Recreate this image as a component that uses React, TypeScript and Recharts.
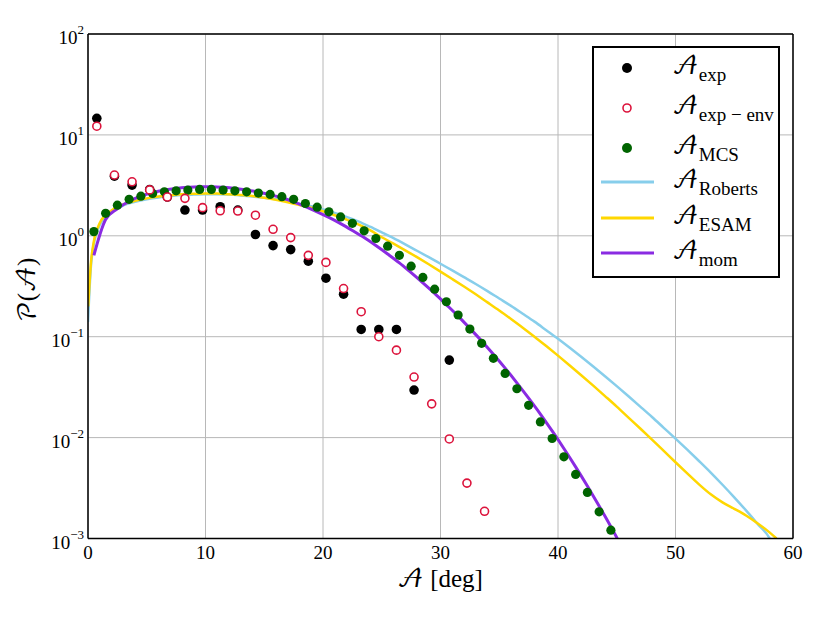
import React from 'react';
import {
  ComposedChart, Line, Scatter, XAxis, YAxis, CartesianGrid,
} from 'recharts';

// measured points
const expX = [0.75, 2.25, 3.75, 5.25, 6.75, 8.25, 9.75, 11.25, 12.75, 14.25, 15.75, 17.25, 18.75, 20.25, 21.75, 23.25, 24.75, 26.25, 27.75, 30.75];
const expY = [14.6, 3.9, 3.18, 2.88, 2.42, 1.8, 1.8, 1.94, 1.8, 1.03, 0.8, 0.73, 0.56, 0.38, 0.264, 0.118, 0.118, 0.118, 0.0296, 0.0586];

const envX = [0.75, 2.25, 3.75, 5.25, 6.75, 8.25, 9.75, 11.25, 12.75, 14.25, 15.75, 17.25, 18.75, 20.25, 21.75, 23.25, 24.75, 26.25, 27.75, 29.25, 30.75, 32.25, 33.75];
const envY = [12.2, 4.0, 3.43, 2.85, 2.42, 2.35, 1.9, 1.77, 1.76, 1.6, 1.16, 0.96, 0.64, 0.545, 0.3, 0.177, 0.1, 0.0736, 0.0398, 0.0216, 0.0097, 0.00354, 0.00186];

const mcsX = [0.5, 1.5, 2.5, 3.5, 4.5, 5.5, 6.5, 7.5, 8.5, 9.5, 10.5, 11.5, 12.5, 13.5, 14.5, 15.5, 16.5, 17.5, 18.5, 19.5, 20.5, 21.5, 22.5, 23.5, 24.5, 25.5, 26.5, 27.5, 28.5, 29.5, 30.5, 31.5, 32.5, 33.5, 34.5, 35.5, 36.5, 37.5, 38.5, 39.5, 40.5, 41.5, 42.5, 43.5, 44.5];
const mcsY = [1.1, 1.67, 2.01, 2.3, 2.47, 2.63, 2.73, 2.79, 2.84, 2.88, 2.88, 2.84, 2.79, 2.73, 2.65, 2.57, 2.44, 2.3, 2.09, 1.92, 1.73, 1.54, 1.33, 1.12, 0.94, 0.79, 0.64, 0.5, 0.387, 0.296, 0.222, 0.164, 0.119, 0.086, 0.061, 0.0433, 0.0305, 0.0209, 0.0143, 0.0098, 0.00645, 0.00432, 0.00286, 0.00184, 0.00121];

// model curves
const robX = [0, 0.3, 1, 2, 3, 4, 5, 6, 7, 8, 9, 10, 11, 12, 13, 14, 15, 16, 17, 18, 19, 20, 21, 22, 23, 24, 25, 26, 27, 28, 29, 30, 31, 32, 33, 34, 35, 36, 37, 38, 39, 40, 41, 42, 43, 44, 45, 46, 47, 48, 49, 50, 51, 52, 53, 54, 55, 56, 57, 58, 58.02];
const robY = [0.14, 0.58, 1.28, 1.72, 2.0, 2.17, 2.3, 2.4, 2.47, 2.53, 2.56, 2.58, 2.58, 2.56, 2.51, 2.45, 2.38, 2.3, 2.2, 2.08, 1.96, 1.82, 1.68, 1.54, 1.39, 1.23, 1.08, 0.946, 0.822, 0.711, 0.614, 0.528, 0.454, 0.389, 0.333, 0.283, 0.239, 0.202, 0.169, 0.141, 0.116, 0.0953, 0.0776, 0.0628, 0.0506, 0.0406, 0.0324, 0.0257, 0.0203, 0.016, 0.0125, 0.00977, 0.00759, 0.00586, 0.0045, 0.00341, 0.00256, 0.0019, 0.00139, 0.00101, 0.001];

const esamX = [0.02, 0.3, 1, 2, 3, 4, 5, 6, 7, 8, 9, 10, 11, 12, 13, 14, 15, 16, 17, 18, 19, 20, 21, 22, 23, 24, 25, 26, 27, 28, 29, 30, 31, 32, 33, 34, 35, 36, 37, 38, 39, 40, 41, 42, 43, 44, 45, 46, 47, 48, 49, 50, 51, 52, 53, 54, 55, 56, 57, 58, 58.6];
const esamY = [0.2, 0.62, 1.34, 1.78, 2.05, 2.22, 2.35, 2.45, 2.52, 2.58, 2.61, 2.63, 2.62, 2.58, 2.54, 2.48, 2.38, 2.27, 2.15, 2.02, 1.9, 1.75, 1.6, 1.45, 1.3, 1.14, 0.968, 0.836, 0.718, 0.614, 0.522, 0.442, 0.373, 0.314, 0.263, 0.219, 0.182, 0.15, 0.123, 0.1, 0.0807, 0.0649, 0.0519, 0.0413, 0.0327, 0.0258, 0.0203, 0.0158, 0.0123, 0.00955, 0.00738, 0.0057, 0.00442, 0.00344, 0.00274, 0.00228, 0.00197, 0.00169, 0.00141, 0.00115, 0.001];

const momX = [0.5, 1.5, 2.5, 3.5, 4.5, 5.5, 6.5, 7.5, 8.5, 9.5, 10.5, 11.5, 12.5, 13.5, 14.5, 15.5, 16.5, 17.5, 18.5, 19.5, 20.5, 21.5, 22.5, 23.5, 24.5, 25.5, 26.5, 27.5, 28.5, 29.5, 30.5, 31.5, 32.5, 33.5, 34.5, 35.5, 36.5, 37.5, 38.5, 39.5, 40.5, 41.5, 42.5, 43.5, 44.5, 45.05];
const momY = [0.64, 1.45, 1.85, 2.2, 2.47, 2.68, 2.84, 2.95, 3.02, 3.06, 3.06, 3.02, 2.95, 2.84, 2.72, 2.56, 2.38, 2.17, 1.95, 1.73, 1.52, 1.32, 1.13, 0.96, 0.8, 0.66, 0.54, 0.431, 0.342, 0.269, 0.208, 0.16, 0.121, 0.0908, 0.067, 0.0488, 0.0349, 0.0246, 0.0171, 0.01164, 0.0078, 0.00513, 0.00331, 0.0021, 0.00131, 0.001];

const xTicks = [0, 10, 20, 30, 40, 50, 60];
const yMajor = [1e-3, 1e-2, 1e-1, 1, 10, 100];
const yMinor = [1e-3, 1e-2, 1e-1, 1, 10].flatMap((d) => [2, 3, 4, 5, 6, 7, 8, 9].map((m) => +(d * m).toPrecision(3)));

const legendNames = ['exp', 'exp − env', 'MCS', 'Roberts', 'ESAM', 'mom'];

const zip = (xs: number[], ys: number[]) => xs.map((x, i) => ({ x, y: ys[i] }));

const SERIF = "'Liberation Serif', 'DejaVu Serif', serif";
const SCRIPT = "'DejaVu Math TeX Gyre', 'Latin Modern Math', 'STIX Two Math', 'DejaVu Serif', serif";
const A = '\u{1D49C}';
const P = '\u{1D4AB}';

const dot = (r: number, fill: string, stroke = 'none', sw = 0) => (props: any) => (
  <circle cx={props.cx} cy={props.cy} r={r} fill={fill} stroke={stroke} strokeWidth={sw} />
);

const XTick = ({ x, y, payload }: any) => (
  <text x={x} y={y + 14} textAnchor="middle" fontFamily={SERIF} fontSize={19} fill="#000">{payload.value}</text>
);

const YTick = ({ x, y, payload }: any) => {
  const e = Math.round(Math.log10(payload.value));
  return (
    <text x={x} y={y + 10} textAnchor="end" fontFamily={SERIF} fontSize={19} fill="#000">
      10<tspan dy={-10} fontSize={13}>{e < 0 ? `−${-e}` : e}</tspan>
    </text>
  );
};

const blank = () => '';

const LegendMark = ({ i }: { i: number }) => {
  if (i === 0) return <svg width={56} height={14}><circle cx={27} cy={7} r={5} fill="#000" /></svg>;
  if (i === 1) return <svg width={56} height={14}><circle cx={27} cy={7} r={4} fill="none" stroke="#dc143c" strokeWidth={1.6} /></svg>;
  if (i === 2) return <svg width={56} height={14}><circle cx={27} cy={7} r={5} fill="#006400" /></svg>;
  const c = ['#87ceeb', '#ffd700', '#8a2be2'][i - 3];
  return <svg width={56} height={14}><line x1={1} x2={54} y1={7} y2={7} stroke={c} strokeWidth={3} /></svg>;
};

export default function App() {
  return (
    <div style={{ position: 'absolute', left: 0, top: 0, width: 830, height: 623, background: '#fff' }}>
      <ComposedChart width={830} height={623} margin={{ top: 34, right: 37, bottom: 54.5, left: 28 }}>
        <CartesianGrid stroke="#b8b8b8" strokeWidth={1} />
        <XAxis dataKey="x" type="number" domain={[0, 60]} ticks={xTicks} allowDataOverflow
          height={30} tickSize={0} tickMargin={6} tick={<XTick />} axisLine={{ stroke: '#000', strokeWidth: 1.5 }} />
        <XAxis xAxisId="top" type="number" domain={[0, 60]} ticks={xTicks} orientation="top" mirror
          tickFormatter={blank} tickSize={5} tickLine={{ stroke: '#000' }} axisLine={{ stroke: '#000', strokeWidth: 1.5 }} />
        <XAxis xAxisId="bot" type="number" domain={[0, 60]} ticks={xTicks} orientation="bottom" mirror
          tickFormatter={blank} tickSize={5} tickLine={{ stroke: '#000' }} axisLine={false} />
        <YAxis scale="log" type="number" domain={[1e-3, 100]} ticks={yMajor} allowDataOverflow width={60}
          tickSize={0} tickMargin={4} tick={<YTick />} axisLine={{ stroke: '#000', strokeWidth: 1.5 }} />
        <YAxis yAxisId="lMaj" scale="log" type="number" domain={[1e-3, 100]} ticks={yMajor} mirror
          tickFormatter={blank} tickSize={7} tickLine={{ stroke: '#000' }} axisLine={false} />
        <YAxis yAxisId="lMin" scale="log" type="number" domain={[1e-3, 100]} ticks={yMinor} mirror
          tickFormatter={blank} tickSize={4} tickLine={{ stroke: '#000' }} axisLine={false} />
        <YAxis yAxisId="rMaj" scale="log" type="number" domain={[1e-3, 100]} ticks={yMajor} orientation="right" mirror
          tickFormatter={blank} tickSize={7} tickLine={{ stroke: '#000' }} axisLine={{ stroke: '#000', strokeWidth: 1.5 }} />
        <YAxis yAxisId="rMin" scale="log" type="number" domain={[1e-3, 100]} ticks={yMinor} orientation="right" mirror
          tickFormatter={blank} tickSize={4} tickLine={{ stroke: '#000' }} axisLine={false} />

        <Scatter data={zip(mcsX, mcsY)} dataKey="y" shape={dot(4.6, '#006400')} isAnimationActive={false} />
        <Line data={zip(robX, robY)} dataKey="y" type="monotone" stroke="#87ceeb" strokeWidth={2.5} dot={false} isAnimationActive={false} />
        <Line data={zip(esamX, esamY)} dataKey="y" type="monotone" stroke="#ffd700" strokeWidth={2.5} dot={false} isAnimationActive={false} />
        <Line data={zip(momX, momY)} dataKey="y" type="monotone" stroke="#8a2be2" strokeWidth={3} dot={false} isAnimationActive={false} />
        <Scatter data={zip(expX, expY)} dataKey="y" shape={dot(4.8, '#000')} isAnimationActive={false} />
        <Scatter data={zip(envX, envY)} dataKey="y" shape={dot(4, '#fff', '#dc143c', 1.6)} isAnimationActive={false} />
      </ComposedChart>

      <div style={{ position: 'absolute', left: 592, top: 46, width: 184, height: 228, border: '2px solid #000', background: '#fff' }}>
        {legendNames.map((name, i) => {
          const cy = i < 3 ? 20 + 40 * i : 134 + 35.5 * (i - 3);
          return (
            <React.Fragment key={name}>
              <div style={{ position: 'absolute', left: 6, top: cy - 7, height: 14 }}><LegendMark i={i} /></div>
              <div style={{ position: 'absolute', left: 78, top: cy - 16, whiteSpace: 'nowrap', lineHeight: '30px' }}>
                <span style={{ fontFamily: SCRIPT, fontSize: 25 }}>{A}</span>
                <span style={{ fontFamily: SERIF, fontSize: 19, position: 'relative', top: 7 }}>{name}</span>
              </div>
            </React.Fragment>
          );
        })}
      </div>

      <div style={{ position: 'absolute', left: 340, width: 200, top: 565, textAlign: 'center', fontFamily: SERIF, fontSize: 25 }}>
        <span style={{ fontFamily: SCRIPT }}>{A}</span> [deg]
      </div>
      <div style={{ position: 'absolute', left: 28, top: 290, width: 0, height: 0 }}>
        <div style={{ position: 'absolute', transform: 'translate(-50%, -50%) rotate(-90deg)', whiteSpace: 'nowrap', fontFamily: SERIF, fontSize: 25 }}>
          <span style={{ fontFamily: SCRIPT }}>{P}</span>(<span style={{ fontFamily: SCRIPT }}>{A}</span>)
        </div>
      </div>
    </div>
  );
}
